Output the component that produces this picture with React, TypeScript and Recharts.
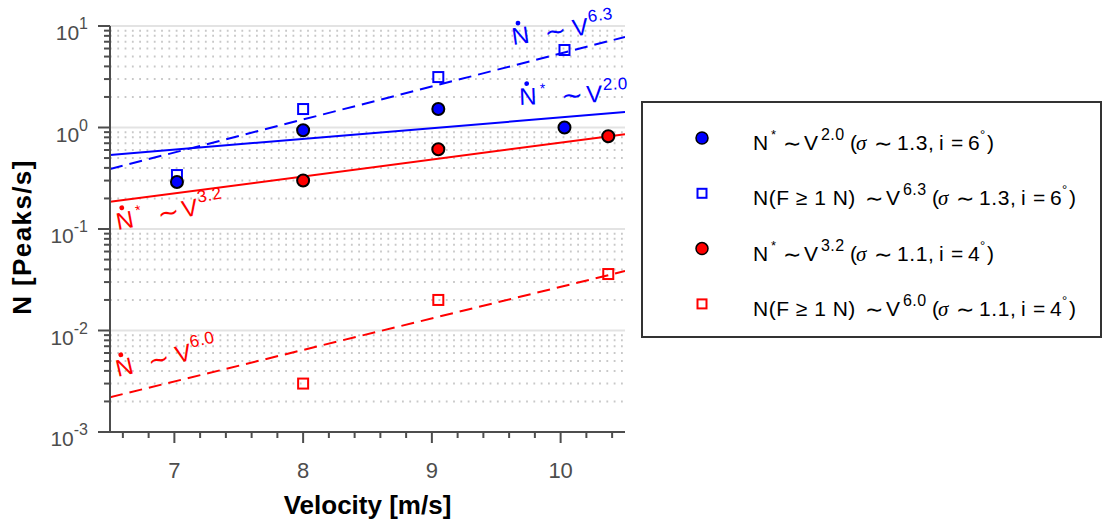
import React from 'react';
import {
  ComposedChart,
  Line,
  Scatter,
  XAxis,
  YAxis,
  CartesianGrid,
  Legend,
  ReferenceDot,
} from 'recharts';

const blueVelocity = [7.02, 8.0, 9.05, 10.03];
const blueStarRate = [0.29, 0.94, 1.52, 1.0];
const blueForceRate = [0.34, 1.52, 3.14, 5.8];
const redVelocity = [8.0, 9.05, 10.37];
const redStarRate = [0.3, 0.61, 0.82];
const redForceRate = [0.003, 0.02, 0.036];

// Power-law fits, read at the edges of the plot
const fitVelocity = [6.5, 10.5];
const blueStarFit = [0.536, 1.42];
const blueForceFit = [0.39, 7.8];
const redStarFit = [0.185, 0.86];
const redForceFit = [0.0022, 0.0385];

const xTicks = [
  6.6, 6.8, 7, 7.2, 7.4, 7.6, 7.8, 8, 8.2, 8.4, 8.6, 8.8, 9, 9.2, 9.4, 9.6, 9.8, 10, 10.2, 10.4,
];
const decades = [0.001, 0.01, 0.1, 1, 10];
const mantissas = [1, 2, 3, 4, 5, 6, 7, 8, 9];
const yTicks = decades
  .slice(0, -1)
  .flatMap((d) => mantissas.map((m) => m * d))
  .concat([10]);
const minorY = decades.slice(0, -1).flatMap((d) => mantissas.slice(1).map((m) => m * d));

const BLUE = '#0000ff';
const RED = '#ff0000';
const AXIS = '#4d4d4d';
const SANS = '"Liberation Sans", Arial, Helvetica, sans-serif';
const TILDE_FONT = '"DejaVu Sans", sans-serif';
const TICK_SIZE = 10;

// fit labels, anchored at the lower-left corner of the N
const annotations = [
  { v: 9.63, n: 6.5, star: false, exp: '6.3', color: BLUE, angle: -8 },
  { v: 9.68, n: 1.67, star: true, exp: '2.0', color: BLUE, angle: -2 },
  { v: 6.56, n: 0.098, star: true, exp: '3.2', color: RED, angle: -10.5 },
  { v: 6.56, n: 0.00348, star: false, exp: '6.0', color: RED, angle: -13 },
];

const legendItems = [
  { marker: 'circle', color: BLUE, base: 'N', star: true, exp: '2.0', sigma: '1.3', incl: '6' },
  { marker: 'square', color: BLUE, base: 'N(F ≥ 1 N)', star: false, exp: '6.3', sigma: '1.3', incl: '6' },
  { marker: 'circle', color: RED, base: 'N', star: true, exp: '3.2', sigma: '1.1', incl: '4' },
  { marker: 'square', color: RED, base: 'N(F ≥ 1 N)', star: false, exp: '6.0', sigma: '1.1', incl: '4' },
];

const zip = (xs: number[], ys: number[]) => xs.map((v, i) => ({ v, n: ys[i] }));

const isDecade = (value: number) =>
  Math.abs(Math.log10(value) - Math.round(Math.log10(value))) < 1e-9;

function YTick(props: any) {
  const { x, y, payload } = props;
  const axisX = x + TICK_SIZE;
  const major = isDecade(payload.value);
  return (
    <g>
      <line x1={axisX - (major ? 12 : 6)} x2={axisX} y1={y} y2={y} stroke={AXIS} strokeWidth={2} />
      {major && (
        <text x={axisX - 22} y={y + 14} textAnchor="end" fill={AXIS} fontSize={21} fontFamily={SANS}>
          10
          <tspan dy={-11} fontSize={16}>
            {String(Math.round(Math.log10(payload.value)))}
          </tspan>
        </text>
      )}
    </g>
  );
}

function XTick(props: any) {
  const { x, y, payload } = props;
  const axisY = y - TICK_SIZE;
  const major = Number.isInteger(payload.value);
  return (
    <g>
      <line x1={x} x2={x} y1={axisY} y2={axisY + (major ? 11 : 6)} stroke={AXIS} strokeWidth={2} />
      {major && (
        <text x={x} y={axisY + 46} textAnchor="middle" fill={AXIS} fontSize={22} fontFamily={SANS}>
          {payload.value}
        </text>
      )}
    </g>
  );
}

function XTitle(props: any) {
  const { viewBox } = props;
  return (
    <text
      x={viewBox.x + viewBox.width / 2}
      y={viewBox.y + 82}
      textAnchor="middle"
      fontSize={26}
      fontWeight="bold"
      fontFamily={SANS}
      fill="#000"
    >
      Velocity [m/s]
    </text>
  );
}

function YTitle(props: any) {
  const { viewBox } = props;
  const cy = viewBox.y + viewBox.height / 2 + 8;
  return (
    <text
      x={31}
      y={cy}
      transform={`rotate(-90, 31, ${cy})`}
      textAnchor="middle"
      fontSize={26}
      fontWeight="bold"
      fontFamily={SANS}
      letterSpacing={1.4}
      fill="#000"
    >
      N [Peaks/s]
    </text>
  );
}

const circleShape = (color: string) => (p: any) =>
  <circle cx={p.cx} cy={p.cy} r={6} fill={color} stroke="#000" strokeWidth={2} />;

const squareShape = (color: string) => (p: any) =>
  <rect x={p.cx - 5} y={p.cy - 5} width={10} height={10} fill="none" stroke={color} strokeWidth={2} />;

function Annotation({ cx, cy, star, exp, color, angle }: any) {
  const tildeX = star ? 42 : 33;
  const vX = star ? 67 : 61;
  return (
    <g transform={`translate(${cx},${cy}) rotate(${angle})`} fill={color} fontFamily={SANS}>
      <text x={0} y={0} fontSize={24}>N</text>
      <circle cx={8} cy={-21} r={2.4} fill={color} />
      {star && (
        <text x={21} y={-11} fontSize={14}>*</text>
      )}
      <text x={tildeX} y={1} fontSize={26} fontFamily={TILDE_FONT}>∼</text>
      <text x={vX} y={0} fontSize={24}>V</text>
      <text x={vX + 17} y={-12} fontSize={17} letterSpacing={0.5}>{exp}</text>
    </g>
  );
}

// legend glyph offsets after the series name (px)
const TAIL = { tilde: 8, v: 29, exp: 46, open: 75, sigma: 81, tilde2: 99, num: 122, i: 164, eq: 176, incl: 193, deg: 205, close: 212 };

function LegendBox() {
  return (
    <svg width={461} height={237} style={{ display: 'block' }}>
      <rect x={1} y={1} width={459} height={235} fill="#fff" stroke="#333" strokeWidth={2} />
      {legendItems.map((item, i) => {
        const my = 37 + i * 55.3;
        const by = my + 12;
        const t = 112 + (item.star ? 22 : 104);
        return (
          <g key={i} fontFamily={SANS} fontSize={21} fill="#000">
            {item.marker === 'circle' ? (
              <circle cx={61} cy={my} r={6} fill={item.color} stroke="#000" strokeWidth={1.5} />
            ) : (
              <rect x={56.5} y={my - 4.5} width={9} height={9} fill="none" stroke={item.color} strokeWidth={2} />
            )}
            <text x={112} y={by} letterSpacing={0.5}>{item.base}</text>
            {item.star && <text x={130} y={by - 11} fontSize={13}>*</text>}
            <text x={t + TAIL.tilde} y={by + 1} fontSize={22} fontFamily={TILDE_FONT}>∼</text>
            <text x={t + TAIL.v} y={by}>V</text>
            <text x={t + TAIL.exp} y={by - 10} fontSize={16} letterSpacing={0.4}>{item.exp}</text>
            <text x={t + TAIL.open} y={by}>(</text>
            <text x={t + TAIL.sigma} y={by} fontStyle="italic" fontFamily='"Liberation Serif", serif'>σ</text>
            <text x={t + TAIL.tilde2} y={by + 1} fontSize={22} fontFamily={TILDE_FONT}>∼</text>
            <text x={t + TAIL.num} y={by} letterSpacing={0.6}>{item.sigma},</text>
            <text x={t + TAIL.i} y={by}>i</text>
            <text x={t + TAIL.eq} y={by}>=</text>
            <text x={t + TAIL.incl} y={by}>{item.incl}</text>
            <text x={t + TAIL.deg} y={by - 11} fontSize={13}>°</text>
            <text x={t + TAIL.close} y={by}>)</text>
          </g>
        );
      })}
    </svg>
  );
}

export default function App() {
  return (
    <div
      style={{
        position: 'absolute',
        left: 0,
        top: 0,
        width: 1103,
        height: 519,
        background: '#fff',
        fontFamily: SANS,
      }}
    >
      <ComposedChart width={1103} height={519} margin={{ top: 26, right: 478, bottom: 0, left: 0 }}>
        <CartesianGrid
          vertical={false}
          horizontalValues={minorY}
          stroke="#c8c8c8"
          strokeWidth={2}
          strokeDasharray="1.8 5.5"
        />
        <CartesianGrid vertical={false} horizontalValues={decades} stroke="#e3e3e3" strokeWidth={2} />
        <XAxis
          dataKey="v"
          type="number"
          domain={[6.5, 10.5]}
          ticks={xTicks}
          interval={0}
          allowDataOverflow
          height={87}
          tickSize={TICK_SIZE}
          tickMargin={0}
          tickLine={false}
          tick={<XTick />}
          axisLine={{ stroke: AXIS, strokeWidth: 2 }}
          label={<XTitle />}
        />
        <YAxis
          dataKey="n"
          type="number"
          scale="log"
          domain={[0.001, 10]}
          ticks={yTicks}
          interval={0}
          allowDataOverflow
          width={110}
          tickSize={TICK_SIZE}
          tickMargin={0}
          tickLine={false}
          tick={<YTick />}
          axisLine={{ stroke: AXIS, strokeWidth: 2 }}
          label={<YTitle />}
        />
        <Line data={zip(fitVelocity, blueStarFit)} dataKey="n" stroke={BLUE} strokeWidth={2} dot={false} isAnimationActive={false} />
        <Line data={zip(fitVelocity, blueForceFit)} dataKey="n" stroke={BLUE} strokeWidth={2} strokeDasharray="13 7" dot={false} isAnimationActive={false} />
        <Line data={zip(fitVelocity, redStarFit)} dataKey="n" stroke={RED} strokeWidth={2} dot={false} isAnimationActive={false} />
        <Line data={zip(fitVelocity, redForceFit)} dataKey="n" stroke={RED} strokeWidth={2} strokeDasharray="13 7" dot={false} isAnimationActive={false} />
        <Scatter data={zip(blueVelocity, blueForceRate)} dataKey="n" shape={squareShape(BLUE)} isAnimationActive={false} />
        <Scatter data={zip(redVelocity, redForceRate)} dataKey="n" shape={squareShape(RED)} isAnimationActive={false} />
        <Scatter data={zip(blueVelocity, blueStarRate)} dataKey="n" shape={circleShape(BLUE)} isAnimationActive={false} />
        <Scatter data={zip(redVelocity, redStarRate)} dataKey="n" shape={circleShape(RED)} isAnimationActive={false} />
        {annotations.map((a, i) => (
          <ReferenceDot
            key={i}
            x={a.v}
            y={a.n}
            ifOverflow="visible"
            shape={(p: any) => <Annotation cx={p.cx} cy={p.cy} {...a} />}
          />
        ))}
        <Legend
          layout="horizontal"
          verticalAlign="middle"
          align="center"
          content={() => <LegendBox />}
          wrapperStyle={{ left: 641, top: 101, width: 461, height: 237 }}
        />
      </ComposedChart>
    </div>
  );
}
